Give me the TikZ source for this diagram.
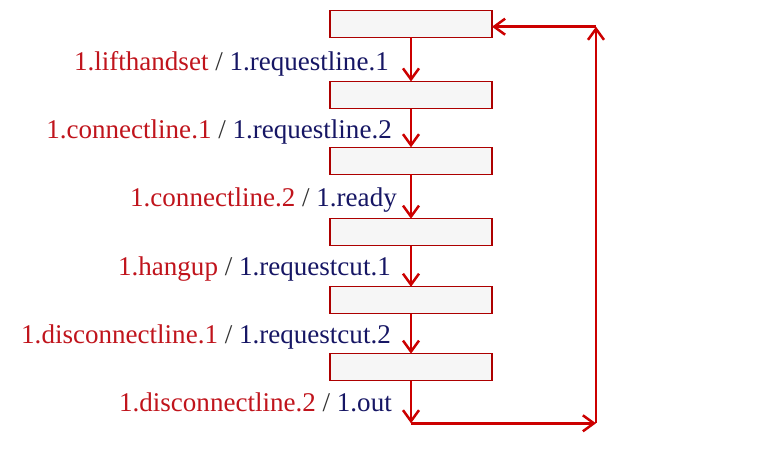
\documentclass[tikz,border=0pt]{standalone}
\usepackage{fontspec}
\setmainfont{Liberation Serif}
\usetikzlibrary{arrows.meta,calc}
\definecolor{lred}{RGB}{204,0,0}
\definecolor{tred}{RGB}{192,20,28}
\definecolor{tblue}{RGB}{22,22,100}
\definecolor{tgray}{RGB}{50,50,50}
\definecolor{bfill}{RGB}{246,246,246}
\begin{document}
\begin{tikzpicture}[x=1pt,y=-1pt,
  statebox/.style={draw=lred!85!black, line width=1.3pt, fill=bfill, minimum width=162pt, minimum height=27pt, inner sep=0pt, outer sep=0pt},
  flow/.style={draw=lred, line width=2.5pt, -{Straight Barb[length=11pt,width=16pt,line width=2.5pt]}},
  lbl/.style={anchor=base east, inner sep=0pt, font=\fontsize{27.05}{31}\selectfont}]
\useasboundingbox (0,0) rectangle (764,474);
\node[statebox] (b1) at (411,23.7) {};
\node[statebox] (b2) at (411,95) {};
\node[statebox] (b3) at (411,160.8) {};
\node[statebox] (b4) at (411,232.2) {};
\node[statebox] (b5) at (411,300.3) {};
\node[statebox] (b6) at (411,367.2) {};
\coordinate (bl) at (411,423.3);
\coordinate (br) at (596,423.3);
\coordinate (tr) at (596,26.7);
\draw[flow] (b1) -- (b2);
\draw[flow] (b2) -- (b3);
\draw[flow] (b3) -- (b4);
\draw[flow] (b4) -- (b5);
\draw[flow] (b5) -- (b6);
\draw[flow] (b6) -- (bl);
\draw[flow] (bl) -- (br);
\draw[flow] (br) -- (tr);
\draw[flow] (tr) -- (b1.east |- tr);
\node[lbl] (l1) at (389,70) {\textcolor{tred}{1.lifthandset} \textcolor{tgray}{/} \textcolor{tblue}{1.requestline.1}};
\node[lbl] (l2) at (392,138) {\textcolor{tred}{1.connectline.1} \textcolor{tgray}{/} \textcolor{tblue}{1.requestline.2}};
\node[lbl] (l3) at (397,206.7) {\textcolor{tred}{1.connectline.2} \textcolor{tgray}{/} \textcolor{tblue}{1.ready}};
\node[lbl] (l4) at (391,275) {\textcolor{tred}{1.hangup} \textcolor{tgray}{/} \textcolor{tblue}{1.requestcut.1}};
\node[lbl] (l5) at (391,343) {\textcolor{tred}{1.disconnectline.1} \textcolor{tgray}{/} \textcolor{tblue}{1.requestcut.2}};
\node[lbl] (l6) at (392,411.7) {\textcolor{tred}{1.disconnectline.2} \textcolor{tgray}{/} \textcolor{tblue}{1.out}};
\end{tikzpicture}
\end{document}
